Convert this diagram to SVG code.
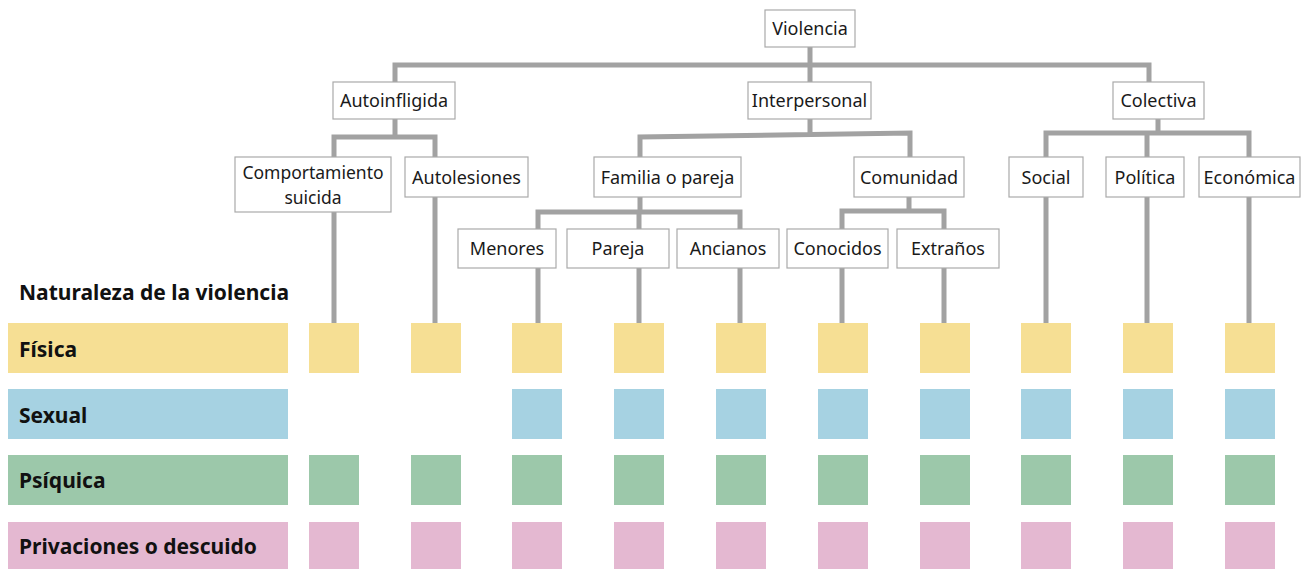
<svg xmlns="http://www.w3.org/2000/svg" width="1307" height="569" viewBox="0 0 1307 569">
<style>
.box{fill:#fff;stroke:#aaaaaa;stroke-width:1.2}
.t{font-family:"Noto Sans","Liberation Sans",sans-serif;font-size:18px;fill:#1a1a1a;text-anchor:middle}
.lab{font-family:"Noto Sans","Liberation Sans",sans-serif;font-size:21px;font-weight:bold;fill:#111}
.c path{fill:none;stroke:#a2a2a2;stroke-width:5}
.f{fill:#f6df94}.s{fill:#a6d2e2}.p{fill:#9cc8aa}.d{fill:#e4b8d1}
</style>
<rect width="1307" height="569" fill="#fff"/>
<g class="c" id="connectors">
<path d="M810 47V83M395 83V65H1149V83"/>
<path d="M395 119V139M334 157V137H435V157"/>
<path d="M810 119V135M640 157V137L910 133V157"/>
<path d="M1158 119V133M1046 157V133H1249V157M1147 133V157"/>
<path d="M640 197V212M538 229V212H740V229M639 212V229"/>
<path d="M909 197V211M842 229V211H944V229"/>
<path d="M334 212V323M435 197V323M538 268V323M639 268V323M740 268V323M842 268V323M944 268V323M1046 197V323M1147 197V323M1249 197V323"/>
</g>
<g id="n-violencia"><rect class="box" x="765" y="10" width="90" height="37"/><text class="t" x="810" y="35">Violencia</text></g>
<g id="n-autoinfligida"><rect class="box" x="333" y="82" width="122" height="37"/><text class="t" x="394" y="107">Autoinfligida</text></g>
<g id="n-interpersonal"><rect class="box" x="748" y="82" width="123" height="37"/><text class="t" x="809.500" y="107">Interpersonal</text></g>
<g id="n-colectiva"><rect class="box" x="1113" y="82" width="91" height="37"/><text class="t" x="1158.500" y="107">Colectiva</text></g>
<g id="n-comportamiento"><rect class="box" x="235" y="157" width="156" height="55"/><text class="t" x="313" y="179" style="font-size:17.5px">Comportamiento</text><text class="t" x="313" y="204" style="font-size:17.5px">suicida</text></g>
<g id="n-autolesiones"><rect class="box" x="405" y="157" width="123" height="40"/><text class="t" x="466.500" y="184">Autolesiones</text></g>
<g id="n-familia"><rect class="box" x="594" y="157" width="147" height="40"/><text class="t" x="667.500" y="184">Familia o pareja</text></g>
<g id="n-comunidad"><rect class="box" x="854" y="157" width="110" height="40"/><text class="t" x="909" y="184">Comunidad</text></g>
<g id="n-social"><rect class="box" x="1009" y="157" width="74" height="40"/><text class="t" x="1046" y="184">Social</text></g>
<g id="n-politica"><rect class="box" x="1106" y="157" width="78" height="40"/><text class="t" x="1145" y="184">Política</text></g>
<g id="n-economica"><rect class="box" x="1199" y="157" width="101" height="40"/><text class="t" x="1249.500" y="184">Económica</text></g>
<g id="n-menores"><rect class="box" x="458" y="229" width="98" height="39"/><text class="t" x="507" y="255">Menores</text></g>
<g id="n-pareja"><rect class="box" x="567" y="229" width="102" height="39"/><text class="t" x="618" y="255">Pareja</text></g>
<g id="n-ancianos"><rect class="box" x="677" y="229" width="102" height="39"/><text class="t" x="728" y="255">Ancianos</text></g>
<g id="n-conocidos"><rect class="box" x="787" y="229" width="101" height="39"/><text class="t" x="837.500" y="255">Conocidos</text></g>
<g id="n-extranos"><rect class="box" x="897" y="229" width="102" height="39"/><text class="t" x="948" y="255">Extraños</text></g>
<g id="legend">
<text class="lab" x="19" y="300">Naturaleza de la violencia</text>
<rect class="f" x="8" y="323" width="280" height="50"/><text class="lab" x="19" y="357">Física</text>
<rect class="s" x="8" y="389" width="280" height="50"/><text class="lab" x="19" y="423">Sexual</text>
<rect class="p" x="8" y="455" width="280" height="50"/><text class="lab" x="19" y="488">Psíquica</text>
<rect class="d" x="8" y="522" width="280" height="50"/><text class="lab" x="19" y="554">Privaciones o descuido</text>
</g>
<g id="grid">
<g class="f"><rect x="309" y="323" width="50" height="50"/><rect x="411" y="323" width="50" height="50"/><rect x="512" y="323" width="50" height="50"/><rect x="614" y="323" width="50" height="50"/><rect x="716" y="323" width="50" height="50"/><rect x="818" y="323" width="50" height="50"/><rect x="920" y="323" width="50" height="50"/><rect x="1021" y="323" width="50" height="50"/><rect x="1123" y="323" width="50" height="50"/><rect x="1225" y="323" width="50" height="50"/></g>
<g class="s"><rect x="512" y="389" width="50" height="50"/><rect x="614" y="389" width="50" height="50"/><rect x="716" y="389" width="50" height="50"/><rect x="818" y="389" width="50" height="50"/><rect x="920" y="389" width="50" height="50"/><rect x="1021" y="389" width="50" height="50"/><rect x="1123" y="389" width="50" height="50"/><rect x="1225" y="389" width="50" height="50"/></g>
<g class="p"><rect x="309" y="455" width="50" height="50"/><rect x="411" y="455" width="50" height="50"/><rect x="512" y="455" width="50" height="50"/><rect x="614" y="455" width="50" height="50"/><rect x="716" y="455" width="50" height="50"/><rect x="818" y="455" width="50" height="50"/><rect x="920" y="455" width="50" height="50"/><rect x="1021" y="455" width="50" height="50"/><rect x="1123" y="455" width="50" height="50"/><rect x="1225" y="455" width="50" height="50"/></g>
<g class="d"><rect x="309" y="522" width="50" height="50"/><rect x="411" y="522" width="50" height="50"/><rect x="512" y="522" width="50" height="50"/><rect x="614" y="522" width="50" height="50"/><rect x="716" y="522" width="50" height="50"/><rect x="818" y="522" width="50" height="50"/><rect x="920" y="522" width="50" height="50"/><rect x="1021" y="522" width="50" height="50"/><rect x="1123" y="522" width="50" height="50"/><rect x="1225" y="522" width="50" height="50"/></g>
</g>
</svg>
